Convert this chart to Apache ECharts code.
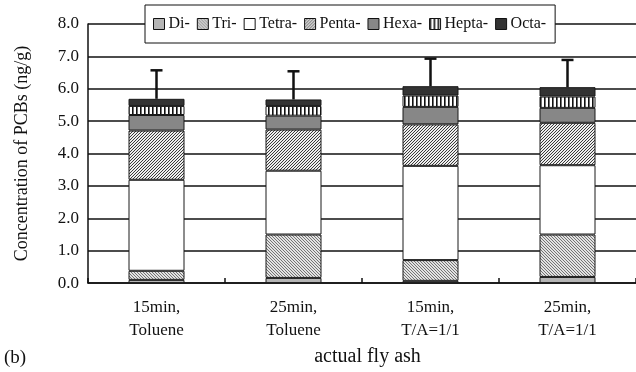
<!DOCTYPE html>
<html>
<head>
<meta charset="utf-8">
<script src="https://cdn.jsdelivr.net/npm/echarts@6/dist/echarts.min.js"></script>
<style>html,body{margin:0;padding:0;background:#fff;}#c{width:636px;height:372px;}</style>
</head>
<body>
<div id="c"></div>
<script>
const categories = ['15min,\nToluene', '25min,\nToluene', '15min,\nT/A=1/1', '25min,\nT/A=1/1'];
const seriesNames = ['Di-', 'Tri-', 'Tetra-', 'Penta-', 'Hexa-', 'Hepta-', 'Octa-'];
const di    = [0.10, 0.16, 0.07, 0.19];
const tri   = [0.28, 1.34, 0.64, 1.31];
const tetra = [2.81, 1.97, 2.91, 2.14];
const penta = [1.52, 1.27, 1.28, 1.31];
const hexa  = [0.48, 0.43, 0.54, 0.46];
const hepta = [0.28, 0.30, 0.35, 0.35];
const octa  = [0.22, 0.20, 0.29, 0.29];
const errors = [0.88, 0.87, 0.85, 0.84];

const FONT = '"Liberation Serif", "DejaVu Serif", serif';

function makePattern(w, h, draw) {
  const c = document.createElement('canvas');
  c.width = w; c.height = h;
  const ctx = c.getContext('2d');
  ctx.fillStyle = '#fff';
  ctx.fillRect(0, 0, w, h);
  draw(ctx, w, h);
  return { image: c, repeat: 'repeat' };
}
const triPat = makePattern(3, 3, (ctx) => {
  ctx.fillStyle = '#e2e2e2'; ctx.fillRect(0, 0, 3, 3);
  ctx.strokeStyle = '#666'; ctx.lineWidth = 0.9;
  ctx.beginPath();
  ctx.moveTo(-1, -1); ctx.lineTo(4, 4);
  ctx.moveTo(-1, 2); ctx.lineTo(1, 4);
  ctx.moveTo(2, -1); ctx.lineTo(4, 1);
  ctx.stroke();
});
const pentaPat = makePattern(6, 6, (ctx) => {
  ctx.fillStyle = '#eeeeee'; ctx.fillRect(0, 0, 6, 6);
  ctx.strokeStyle = '#3a3a3a'; ctx.lineWidth = 1;
  ctx.beginPath();
  for (let k = -6; k <= 12; k += 3) { ctx.moveTo(k, 6); ctx.lineTo(k + 6, 0); }
  ctx.stroke();
});
const heptaPat = makePattern(4, 4, (ctx) => {
  ctx.fillStyle = '#111'; ctx.fillRect(0, 0, 1.6, 4);
});

const fills = ['#b5b5b5', triPat, '#ffffff', pentaPat, '#878787', heptaPat, '#333333'];
const values = [di, tri, tetra, penta, hexa, hepta, octa];

const totals = categories.map((_, i) => values.reduce((s, arr) => s + arr[i], 0));
const errData = categories.map((_, i) => [i, totals[i], errors[i]]);

const series = seriesNames.map((name, k) => ({
  name: name,
  type: 'bar',
  stack: 'pcb',
  barWidth: 56,
  data: values[k],
  itemStyle: { color: fills[k], borderColor: '#1a1a1a', borderWidth: 1 },
  emphasis: { disabled: true },
  animation: false
}));

series.push({
  name: 'err',
  type: 'custom',
  z: 10,
  animation: false,
  data: errData,
  renderItem: function (params, api) {
    const x = api.value(0);
    const base = api.coord([x, api.value(1)]);
    const top = api.coord([x, api.value(1) + api.value(2)]);
    const hw = 6;
    return {
      type: 'group',
      children: [
        { type: 'line', shape: { x1: base[0], y1: base[1], x2: top[0], y2: top[1] },
          style: { stroke: '#111', lineWidth: 2.5 } },
        { type: 'line', shape: { x1: top[0] - hw, y1: top[1], x2: top[0] + hw, y2: top[1] },
          style: { stroke: '#111', lineWidth: 2.5 } }
      ]
    };
  }
});

const chart = echarts.init(document.getElementById('c'), null, { renderer: 'canvas' });
chart.setOption({
  backgroundColor: '#fff',
  animation: false,
  textStyle: { fontFamily: FONT, color: '#111' },
  grid: { left: 88, top: 24, bottom: 85, right: -6, containLabel: false },
  legend: {
    data: seriesNames,
    left: 145, top: 5,
    padding: [11, 9, 11, 8],
    itemGap: 7,
    itemWidth: 11, itemHeight: 11,
    backgroundColor: '#fff',
    borderColor: '#111', borderWidth: 1,
    icon: 'rect',
    itemStyle: { borderColor: '#111', borderWidth: 1 },
    textStyle: { fontFamily: FONT, fontSize: 16, color: '#111', padding: [0, 0, 0, -1] },
    selectedMode: false
  },
  xAxis: {
    type: 'category',
    data: categories,
    name: 'actual fly ash',
    nameLocation: 'middle',
    nameGap: 60,
    nameTextStyle: { fontFamily: FONT, fontSize: 20, color: '#111', padding: [0, 0, 0, 11] },
    axisLine: { lineStyle: { color: '#111', width: 1.5 } },
    axisTick: { show: true, inside: true, length: 5, lineStyle: { color: '#111', width: 1.5 } },
    axisLabel: { fontFamily: FONT, fontSize: 17, color: '#111', lineHeight: 23, margin: 13 },
    splitLine: { show: false }
  },
  yAxis: {
    type: 'value',
    min: 0, max: 8, interval: 1,
    name: 'Concentration of PCBs (ng/g)',
    nameLocation: 'middle',
    nameGap: 57,
    nameTextStyle: { fontFamily: FONT, fontSize: 18, color: '#111' },
    axisLine: { show: true, lineStyle: { color: '#111', width: 1.5 } },
    axisTick: { show: false },
    axisLabel: { fontFamily: FONT, fontSize: 17, color: '#111', margin: 9,
      formatter: v => v.toFixed(1) },
    splitLine: { show: true, lineStyle: { color: '#111', width: 1.5 } }
  },
  graphic: [
    { type: 'text', left: 4, top: 349,
      style: { text: '(b)', font: '19px ' + FONT, fill: '#111' } }
  ],
  series: series
});
</script>
</body>
</html>
